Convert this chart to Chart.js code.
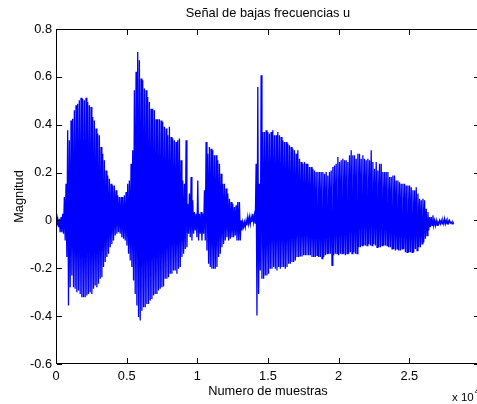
<!DOCTYPE html>
<html>
<head>
<meta charset="utf-8">
<script src="https://cdn.jsdelivr.net/npm/chart.js@4/dist/chart.umd.min.js"></script>
<style>
  html, body { margin: 0; padding: 0; overflow: hidden; background: #fff; }
  #wrap { position: absolute; left: 0; top: 0; width: 500px; height: 404px; }
</style>
</head>
<body>
<div id="wrap"><canvas id="signalChart" width="500" height="404"></canvas></div>
<script>
// envelope of the signal, read every 118 samples (max / min of each slice)
const sampleStep = 118;
const upper = [
    0.014, 0.007, 0.007, 0.014, 0.028, 0.098, 0.153, 0.377, 0.335, 0.418,
    0.425, 0.460, 0.481, 0.488, 0.502, 0.513, 0.509, 0.502, 0.513, 0.495,
    0.481, 0.474, 0.432, 0.418, 0.384, 0.363, 0.356, 0.307, 0.279, 0.251,
    0.209, 0.188, 0.174, 0.153, 0.146, 0.146, 0.126, 0.105, 0.098, 0.098,
    0.098, 0.105, 0.119, 0.153, 0.167, 0.237, 0.293, 0.544, 0.621, 0.704,
    0.669, 0.593, 0.586, 0.551, 0.544, 0.516, 0.495, 0.467, 0.467, 0.460,
    0.423, 0.423, 0.423, 0.418, 0.411, 0.391, 0.384, 0.356, 0.391, 0.349,
    0.342, 0.335, 0.328, 0.335, 0.342, 0.251, 0.167, 0.153, 0.335, 0.070,
    0.112, 0.181, 0.084, 0.035, 0.028, 0.167, 0.028, 0.035, 0.028, 0.126,
    0.328, 0.279, 0.307, 0.300, 0.293, 0.272, 0.272, 0.251, 0.237, 0.195,
    0.153, 0.153, 0.133, 0.112, 0.091, 0.077, 0.070, 0.056, 0.063, 0.077,
    0.077, 0.000, -0.007, -0.007, 0.000, 0.014, 0.014, 0.014, 0.028, 0.021,
    0.237, 0.558, 0.153, 0.607, 0.370, 0.370, 0.377, 0.370, 0.363, 0.370,
    0.377, 0.356, 0.356, 0.370, 0.356, 0.349, 0.335, 0.328, 0.328, 0.321,
    0.314, 0.307, 0.300, 0.293, 0.279, 0.293, 0.258, 0.244, 0.237, 0.244,
    0.237, 0.237, 0.223, 0.223, 0.216, 0.209, 0.202, 0.202, 0.202, 0.202,
    0.202, 0.195, 0.202, 0.188, 0.202, 0.209, 0.223, 0.230, 0.237, 0.265,
    0.244, 0.251, 0.258, 0.251, 0.251, 0.244, 0.272, 0.293, 0.272, 0.272,
    0.258, 0.279, 0.279, 0.258, 0.272, 0.258, 0.251, 0.258, 0.251, 0.293,
    0.244, 0.216, 0.244, 0.209, 0.237, 0.237, 0.202, 0.202, 0.202, 0.202,
    0.181, 0.181, 0.188, 0.188, 0.167, 0.167, 0.160, 0.153, 0.153, 0.153,
    0.146, 0.146, 0.146, 0.139, 0.126, 0.126, 0.139, 0.112, 0.091, 0.084,
    0.091, 0.084, 0.049, 0.035, 0.014, 0.014, 0.021, 0.000, 0.000, -0.007,
    0.000, 0.000, 0.000, 0.007, 0.000, 0.000, 0.000, -0.007, -0.007
];
const lower = [
    -0.021, -0.028, -0.049, -0.049, -0.056, -0.084, -0.153, -0.356, -0.279, -0.230,
    -0.279, -0.286, -0.300, -0.293, -0.307, -0.321, -0.321, -0.321, -0.314, -0.307,
    -0.300, -0.307, -0.286, -0.272, -0.279, -0.265, -0.244, -0.237, -0.195, -0.174,
    -0.153, -0.139, -0.112, -0.098, -0.084, -0.063, -0.056, -0.049, -0.056, -0.070,
    -0.077, -0.084, -0.105, -0.139, -0.167, -0.195, -0.251, -0.307, -0.356, -0.404,
    -0.418, -0.377, -0.363, -0.363, -0.349, -0.349, -0.335, -0.328, -0.314, -0.307,
    -0.307, -0.293, -0.286, -0.279, -0.276, -0.244, -0.244, -0.237, -0.223, -0.223,
    -0.209, -0.209, -0.223, -0.202, -0.195, -0.153, -0.139, -0.119, -0.112, -0.056,
    -0.070, -0.084, -0.056, -0.042, -0.070, -0.084, -0.056, -0.084, -0.056, -0.084,
    -0.126, -0.181, -0.195, -0.202, -0.202, -0.202, -0.195, -0.153, -0.139, -0.112,
    -0.098, -0.084, -0.070, -0.084, -0.077, -0.070, -0.070, -0.063, -0.084, -0.084,
    -0.084, -0.042, -0.028, -0.028, -0.021, -0.014, -0.014, -0.007, -0.007, -0.014,
    -0.397, -0.307, -0.209, -0.244, -0.244, -0.230, -0.230, -0.223, -0.202, -0.202,
    -0.195, -0.202, -0.209, -0.195, -0.202, -0.195, -0.195, -0.202, -0.195, -0.181,
    -0.181, -0.174, -0.174, -0.167, -0.153, -0.153, -0.151, -0.151, -0.146, -0.146,
    -0.146, -0.146, -0.146, -0.153, -0.153, -0.153, -0.146, -0.153, -0.153, -0.160,
    -0.153, -0.146, -0.139, -0.139, -0.139, -0.188, -0.146, -0.139, -0.139, -0.146,
    -0.139, -0.139, -0.139, -0.146, -0.139, -0.139, -0.133, -0.139, -0.133, -0.139,
    -0.139, -0.112, -0.112, -0.105, -0.105, -0.105, -0.105, -0.098, -0.105, -0.105,
    -0.098, -0.105, -0.112, -0.112, -0.112, -0.105, -0.105, -0.105, -0.105, -0.112,
    -0.112, -0.119, -0.119, -0.126, -0.119, -0.126, -0.126, -0.119, -0.119, -0.133,
    -0.133, -0.133, -0.133, -0.133, -0.133, -0.119, -0.126, -0.112, -0.112, -0.098,
    -0.091, -0.077, -0.063, -0.042, -0.028, -0.021, -0.021, -0.021, -0.021, -0.014,
    -0.014, -0.014, -0.014, -0.014, -0.014, -0.011, -0.011, -0.014, -0.014
];

const titleText = 'Señal de bajas frecuencias u';
const xLabel = 'Numero de muestras';
const yLabel = 'Magnitud';
const font = "'Liberation Sans', Arial, sans-serif";

// the waveform swings between max and min of every slice
const points = [];
upper.forEach((u, k) => {
    points.push({ x: k * sampleStep, y: u });
    points.push({ x: k * sampleStep + sampleStep / 2, y: lower[k] });
});

// matlab style box: frame, inward ticks on all sides, labels
const matlabAxes = {
    id: 'matlabAxes',
    afterDraw(chart) {
        const { ctx, chartArea: a, scales: { x, y } } = chart;
        const L = Math.round(a.left), R = Math.round(a.right) - 1;
        const T = Math.round(a.top), B = Math.round(a.bottom) - 1;
        ctx.save();
        ctx.fillStyle = '#000000';
        // frame as 1px filled strips
        ctx.fillRect(L, T, R - L + 1, 1);
        ctx.fillRect(L, B, R - L + 1, 1);
        ctx.fillRect(L, T, 1, B - T + 1);
        ctx.fillRect(R, T, 1, B - T + 1);
        x.ticks.forEach(t => {
            const px = Math.round(x.getPixelForValue(t.value));
            ctx.fillRect(px, B - 5, 1, 5);
            ctx.fillRect(px, T + 1, 1, 5);
        });
        y.ticks.forEach(t => {
            const py = Math.round(y.getPixelForValue(t.value));
            ctx.fillRect(L + 1, py, 5, 1);
            ctx.fillRect(R - 5, py, 5, 1);
        });

        ctx.font = '12.8px ' + font;
        ctx.textAlign = 'center';
        ctx.textBaseline = 'middle';
        const cx = (a.left + a.right) / 2;
        ctx.fillText(titleText, cx, 13);
        ctx.fillText(xLabel, cx, 391);
        ctx.save();
        ctx.translate(19, (a.top + a.bottom) / 2);
        ctx.rotate(-Math.PI / 2);
        ctx.fillText(yLabel, 0, 0);
        ctx.restore();

        ctx.textAlign = 'left';
        ctx.font = '11.5px ' + font;
        ctx.fillText('x 10', 452, 398);
        const w = ctx.measureText('x 10').width;
        ctx.font = '8.5px ' + font;
        ctx.fillText('4', 452 + w + 1, 392);
        ctx.restore();
    }
};

new Chart(document.getElementById('signalChart'), {
    type: 'line',
    data: {
        datasets: [{
            data: points,
            borderColor: '#0000ff',
            borderWidth: 1.3,
            pointRadius: 0,
            tension: 0,
            fill: false
        }]
    },
    options: {
        responsive: false,
        animation: false,
        devicePixelRatio: 1,
        events: [],
        layout: { padding: { left: 0, top: 29, right: 20, bottom: 0 } },
        scales: {
            x: {
                type: 'linear',
                min: 0,
                max: 30000,
                grid: { display: false, drawTicks: false },
                border: { display: false },
                ticks: {
                    stepSize: 5000,
                    padding: 5,
                    color: '#000',
                    maxRotation: 0,
                    font: { family: font, size: 12.8 },
                    callback: function (value) {
                        if (value >= 30000) return '';
                        return String(value / 10000);
                    }
                },
                afterFit: function (scale) { scale.height = 40; }
            },
            y: {
                min: -0.6,
                max: 0.8,
                grid: { display: false, drawTicks: false },
                border: { display: false },
                ticks: {
                    stepSize: 0.2,
                    padding: 4,
                    color: '#000',
                    font: { family: font, size: 12.8 },
                    callback: function (value) {
                        return String(Math.round(value * 10) / 10);
                    }
                },
                afterFit: function (scale) { scale.width = 56; }
            }
        },
        plugins: {
            legend: { display: false },
            tooltip: { enabled: false }
        }
    },
    plugins: [matlabAxes]
});
</script>
</body>
</html>
